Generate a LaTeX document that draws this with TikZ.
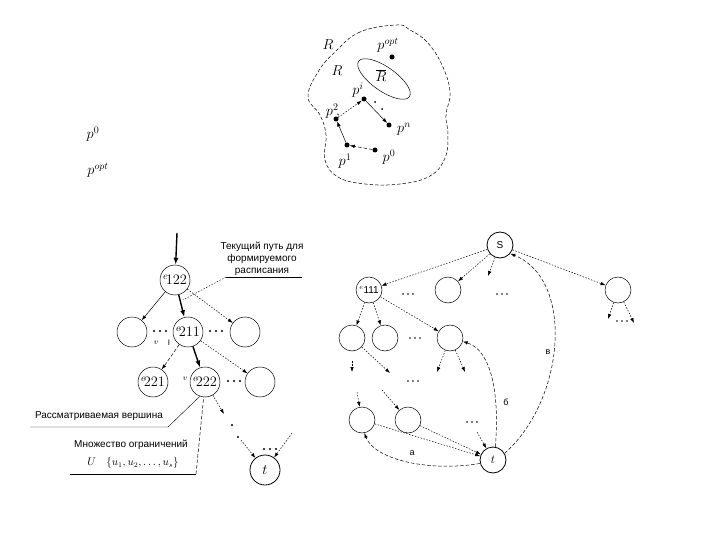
\documentclass[tikz,border=0pt]{standalone}
\usepackage{fontspec}
\newfontfamily\sansf{Liberation Sans}
\usetikzlibrary{arrows.meta,calc}
\begin{document}
\begin{tikzpicture}[x=1pt,y=-1pt,line width=0.5pt,
  arr/.style={-{Latex[length=5pt,width=3.5pt]}},
  thk/.style={line width=1.4pt,-{Latex[length=7pt,width=5pt]}},
  dotl/.style={dash pattern=on 1.5pt off 1.5pt},
  dshl/.style={dash pattern=on 3.5pt off 2pt},
  tn/.style={circle,draw,minimum size=30pt,inner sep=0pt,font=\fontsize{14}{14}\selectfont},
  rn/.style={circle,draw,minimum size=26pt,inner sep=0pt,font=\sansf\fontsize{10}{10}\selectfont},
  lbl/.style={font=\sansf\fontsize{10}{12}\selectfont},
  ml/.style={font=\fontsize{14}{14}\selectfont,inner sep=0pt},
  pt/.style={circle,fill,minimum size=5pt,inner sep=0pt},
  bd/.pic={\fill (-6,0) circle[radius=1.05] (0,0) circle[radius=1.05] (6,0) circle[radius=1.05];},
  sd/.pic={\fill (-5,0) circle[radius=0.85] (0,0) circle[radius=0.85] (5,0) circle[radius=0.85];},
]
\useasboundingbox[fill=white] (0,0) rectangle (720,540);

% ---------- top diagram ----------
\draw[dshl] plot[smooth cycle, tension=0.7] coordinates {(397,25) (360,32) (335,52) (318,72) (308,97) (320,115) (326,135) (325,160) (338,177) (365,184) (400,184) (430,176) (445,158) (448,135) (446,115) (450,92) (442,65) (427,42) (410,30)};
\draw[rotate around={-35:(384,79)}] (384,79) ellipse [x radius=31, y radius=12];
\node[ml] (lR1) at (328,45) {$R$};
\node[ml] (lR2) at (337,71) {$R$};
\node[ml] (lRb) at (381,76) {$\overline{R}$};
\node[pt] (popt) at (392,57) {};
\node[pt] (ppi) at (364,99) {};
\node[pt] (pp2) at (336,119) {};
\node[pt] (ppn) at (389,125) {};
\node[pt] (pp1) at (347,145) {};
\node[pt] (pp0) at (375,150) {};
\node[ml] (lopt) at (388,45) {$p^{opt}$};
\node[ml] (lpi) at (358,90) {$p^{i}$};
\node[ml] (lp2) at (333,111) {$p^{2}\!,$};
\node[ml] (lpn) at (404,129) {$p^{n}$};
\node[ml] (lp1) at (345,161) {$p^{1}$};
\node[ml] (lp0) at (389,157) {$p^{0}$};
\draw[dshl,arr] (pp0) -- (pp1);
\draw[arr] (pp1) -- (pp2);
\draw[dotl,arr] (pp2) -- (ppi);
\draw[arr] (ppi) -- (ppn);
\fill (375,102) circle[radius=1] (382,109) circle[radius=1];

\node[ml] (lp0b) at (93,134) {$p^{0}$};
\node[ml] (loptb) at (98,170) {$p^{opt}$};

% ---------- left tree ----------
\coordinate (top) at (177,233);
\node[tn] (e122) at (175,280) {$^{e}\!122$};
\node[tn] (l21) at (132,332) {};
\node[tn] (e211) at (188,332) {$^{e}\!211$};
\node[tn] (l23) at (245,332) {};
\node[tn] (e221) at (153,382) {$^{e}\!221$};
\node[tn] (e222) at (205,382) {$^{e}\!222$};
\node[tn] (l33) at (260,382) {};
\node[tn,thick] (t1) at (265,470) {$t$};
\pic at (160,331) {bd};
\pic at (216,331) {bd};
\pic at (234,381) {bd};
\pic at (270,449) {bd};
\node[font=\fontsize{8}{8}\selectfont] (v1) at (156,343) {$v$};
\node[font=\sansf\fontsize{8}{8}\selectfont] (v2) at (169,343) {I};
\node[font=\fontsize{8}{8}\selectfont] (v3) at (185,379) {$v$};
\draw[thk] (top) -- (e122);
\draw[arr] (e122) -- (l21);
\draw[thk] (e122) -- (e211);
\draw[dotl,arr] (e122) -- (l23);
\draw[dshl,arr] (e211) -- (e221);
\draw[thk] (e211) -- (e222);
\draw[dotl,arr] (e211) -- (l33);
\coordinate (m1) at (224,414);
\draw[dotl,arr] (e222) -- (m1);
\fill (232,425) circle[radius=1.1] (238,437) circle[radius=1.1];
\coordinate (m2) at (241,440);
\draw[dotl,arr] (m2) -- (t1);
\coordinate (rin) at (292,433);
\draw[dotl,arr] (rin) -- (t1);

\node[lbl,align=center] (cur) at (262,259) {Текущий путь для\\формируемого\\расписания};
\coordinate (c1) at (302,277);
\coordinate (c2) at (226,277);
\coordinate (c3) at (183,300);
\draw[thin] (c1) -- (c2);
\draw[dotl,thin] (c2) -- (c3);

\node[lbl] (rv) at (99,416) {Рассматриваемая вершина};
\coordinate (r1) at (30,427);
\coordinate (r2) at (168,427);
\draw[thin] (r1) -- (r2) -- (e222.250);

\node[lbl] (mo) at (131,445) {Множество ограничений};
\node[font=\fontsize{10.5}{10.5}\selectfont] (uu) at (133,463) {$U\quad\{u_1,u_2,\ldots,u_s\}$};
\coordinate (u1) at (70,474);
\coordinate (u2) at (196,474);
\draw[thin] (u1) -- (u2);
\draw[dshl] (u2) -- (e222.265);

% ---------- right graph ----------
\node[rn,thick] (S) at (500,245) {S};
\node[rn] (e111) at (369,290) {$^{e}$111};
\node[rn] (r12) at (448,290) {};
\node[rn] (r13) at (618,290) {};
\node[rn] (r21) at (352,338) {};
\node[rn] (r22) at (385,338) {};
\node[rn] (r23) at (450,338) {};
\node[rn] (r31) at (362,420) {};
\node[rn] (r32) at (408,420) {};
\node[rn,thick,font=\fontsize{12}{12}\selectfont] (t2) at (493,460) {$t$};
\pic at (408,294) {sd};
\pic at (502,294) {sd};
\pic at (415,338) {sd};
\pic at (413,381) {sd};
\pic at (472,422) {sd};
\pic at (622,321) {sd};

\coordinate (s4) at (488,276);
\coordinate (k1) at (608,319);
\coordinate (k2) at (634,323);
\coordinate (h1) at (390,373);
\coordinate (h2a) at (352,361);
\coordinate (h2b) at (352,372);
\coordinate (h3) at (437,372);
\coordinate (h4) at (465,372);
\coordinate (g1) at (357,392);
\coordinate (g2) at (382,390);
\coordinate (g3) at (477,432);

\draw[dotl,arr] (S) -- (e111);
\draw[dotl,arr] (S) -- (r12);
\draw[dotl,arr] (S) -- (s4);
\draw[dotl,arr] (S) -- (r13);
\draw[dotl,arr] (r13) -- (k1);
\draw[dotl,arr] (r13) -- (k2);
\draw[dotl,arr] (e111) -- (r21);
\draw[dotl,arr] (e111) -- (r22);
\draw[dotl,arr] (e111) -- (r23);
\draw[dotl,arr] (r21) -- (h1);
\draw[dotl,arr] (h2a) -- (h2b);
\draw[dotl,arr] (r23) -- (h3);
\draw[dotl,arr] (r23) -- (h4);
\draw[dotl,arr] (g1) -- (r31);
\draw[dotl,arr] (g2) -- (r32);
\draw[dotl,arr] (r31) -- (t2);
\draw[dotl,arr] (r32) -- (t2);
\draw[dotl,arr] (g3) -- (t2);

\draw[dshl,arr] (t2.195) .. controls (430,472) and (375,460) .. (r31.-80);
\draw[dshl,arr] (t2.80) .. controls (500,390) and (490,350) .. (r23.-15);
\draw[dshl,arr] (t2.30) .. controls (565,400) and (575,280) .. (S.-40);
\node[font=\sansf\fontsize{9}{9}\selectfont] (la) at (412,453) {а};
\node[font=\sansf\fontsize{9}{9}\selectfont] (lb) at (506,402) {б};
\node[font=\sansf\fontsize{9}{9}\selectfont] (lv) at (548,352) {в};
\end{tikzpicture}
\end{document}
